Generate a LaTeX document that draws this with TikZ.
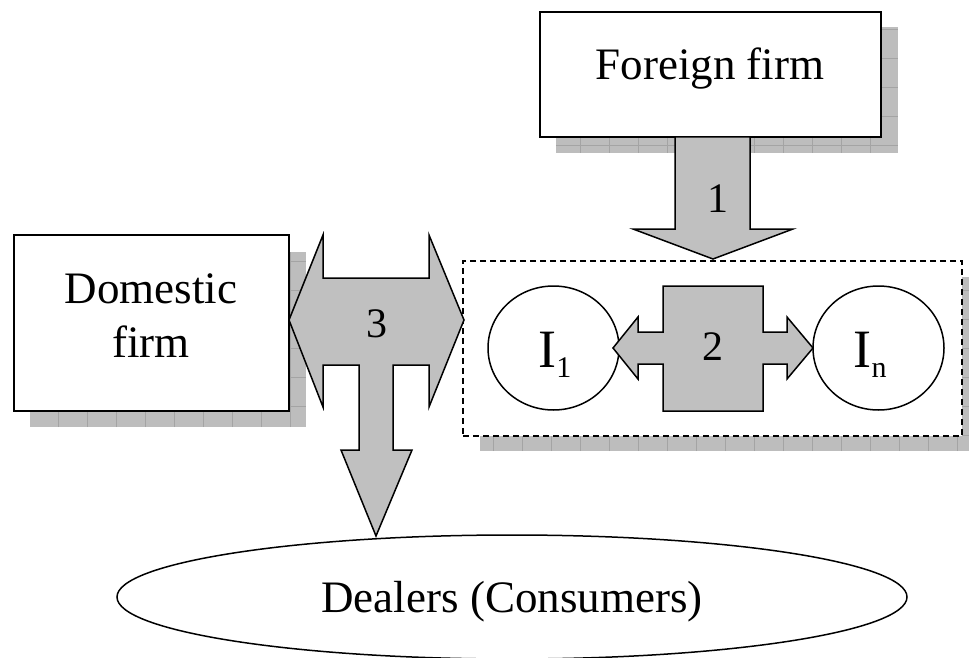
\documentclass[tikz,border=0pt]{standalone}
\usepackage{fontspec}
\setmainfont{Liberation Serif}
\usetikzlibrary{shapes.geometric}
\definecolor{arrowgray}{HTML}{C0C0C0}
\definecolor{shadowfill}{HTML}{BDBDBD}
\definecolor{shadowline}{HTML}{A4A4A4}
\newcommand\gridshadow[2]{%
  \begin{scope}
    \clip #1 rectangle #2;
    \fill[shadowfill] #1 rectangle #2;
    \draw[shadowline, line width=0.6pt, step=29pt] #1 grid #2;
  \end{scope}}
\begin{document}
\begin{tikzpicture}[x=1pt,y=-1pt,
  boxshape/.style={draw, fill=white, line width=1.8pt, inner sep=0pt},
  groupbox/.style={draw, fill=white, line width=1.5pt, dash pattern=on 6pt off 4pt, inner sep=0pt},
  arrowshape/.style={draw, fill=arrowgray, line width=1.5pt, line join=miter},
  roundshape/.style={draw, ellipse, fill=white, line width=1.5pt, inner sep=0pt},
  lbl/.style={inner sep=0pt, anchor=base, font=\fontsize{45}{54}\selectfont},
  numlbl/.style={inner sep=0pt, anchor=base, font=\fontsize{42}{50}\selectfont}]
\useasboundingbox (0,0) rectangle (969,658);

% shadows
\gridshadow{(556,27)}{(898,153)}
\gridshadow{(30,252)}{(306,427)}
\gridshadow{(480,277)}{(969,451)}

% boxes
\node[boxshape, minimum width=341pt, minimum height=125pt] (foreign) at (710.5,74.5) {};
\node[boxshape, minimum width=275pt, minimum height=176pt] (domestic) at (151.5,323) {};
\node[groupbox, minimum width=499pt, minimum height=175pt] (group) at (712.5,348.5) {};

% intermediaries
\node[roundshape, minimum width=131pt, minimum height=124pt] (i1) at (553.5,348) {};
\node[roundshape, minimum width=131pt, minimum height=124pt] (in) at (878.5,348) {};

% dealers
\node[roundshape, minimum width=790pt, minimum height=124pt] (dealers) at (512,597) {};

% arrow 1
\draw[arrowshape] (675,137) -- (750,137) -- (750,229) -- (793,229) -- (713,259)
  -- (633,229) -- (675,229) -- cycle;
% arrow 2
\draw[arrowshape] (663,286) -- (763,286) -- (763,332) -- (787,332) -- (787,317)
  -- (813,348) -- (787,379) -- (787,364) -- (763,364) -- (763,411) -- (663,411)
  -- (663,364) -- (638,364) -- (638,379) -- (613,348) -- (638,317) -- (638,332)
  -- (663,332) -- cycle;
% arrow 3
\draw[arrowshape] (289,320) -- (323,235) -- (323,278) -- (429,278) -- (429,235)
  -- (464,320) -- (429,407) -- (429,365) -- (393,365) -- (393,450) -- (412,450)
  -- (376,536) -- (341,450) -- (359,450) -- (359,365) -- (323,365) -- (323,407)
  -- cycle;

% texts
\node[lbl] (tforeign) at (710,80) {Foreign firm};
\node[lbl] (tdom1) at (151,303) {Domestic};
\node[lbl] (tdom2) at (151,357) {firm};
\node[lbl] (tdealers) at (512,612) {Dealers (Consumers)};
\node[numlbl] (n1) at (718,212) {1};
\node[numlbl] (n2) at (713,360) {2};
\node[numlbl] (n3) at (377,337) {3};
\node[inner sep=0pt, anchor=base] (ti1) at (555,367)
  {{\fontsize{54}{60}\selectfont I}\raisebox{-10pt}{\fontsize{30}{34}\selectfont 1}};
\node[inner sep=0pt, anchor=base] (tin) at (870,367)
  {{\fontsize{54}{60}\selectfont I}\raisebox{-10pt}{\fontsize{30}{34}\selectfont n}};
\end{tikzpicture}
\end{document}
